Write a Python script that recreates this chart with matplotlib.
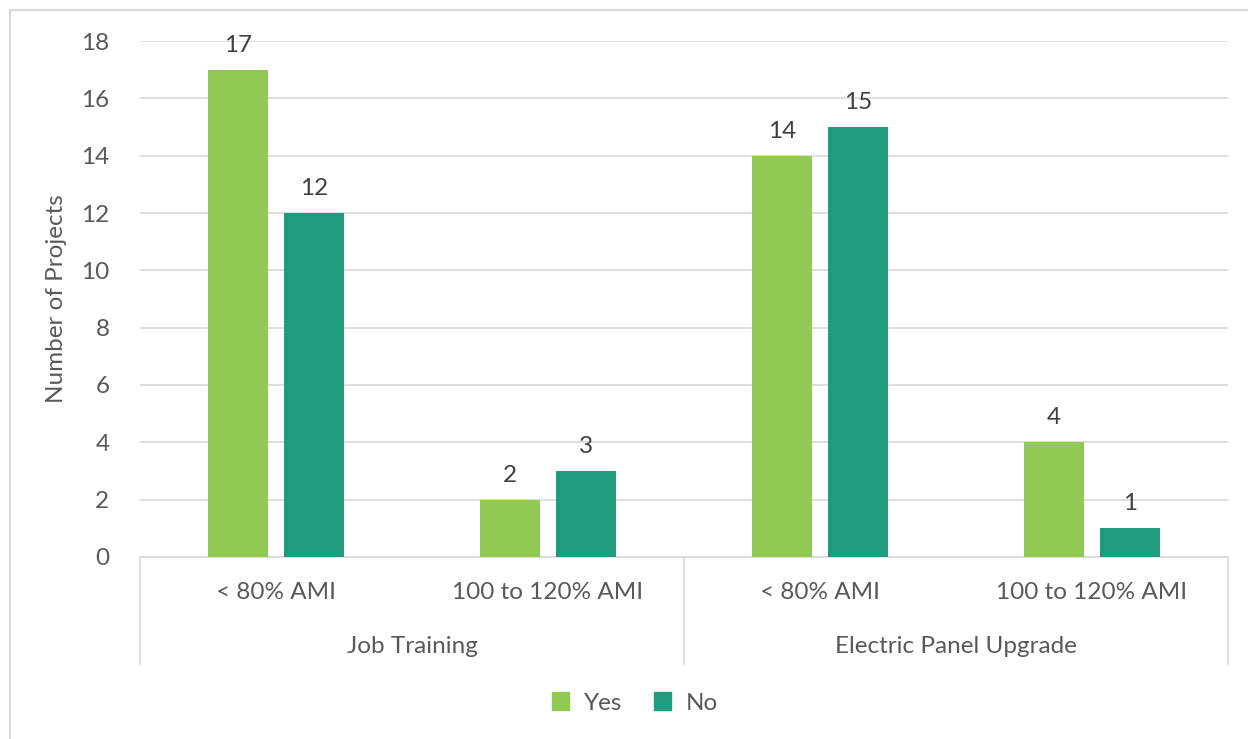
import matplotlib.pyplot as plt
from matplotlib.patches import Rectangle, Patch
from matplotlib.transforms import blended_transform_factory

plt.rcParams['font.family'] = ['Lato', 'DejaVu Sans']

groups = ['Job Training', 'Electric Panel Upgrade']
income_bands = ['< 80% AMI', '100 to 120% AMI', '< 80% AMI', '100 to 120% AMI']
yes_counts = [17, 2, 14, 4]
no_counts = [12, 3, 15, 1]

yes_color = '#92c955'
no_color = '#1f9b7f'
text_color = '#595959'
line_color = '#d9d9d9'
fs = 17.5

fig = plt.figure(figsize=(12.48, 7.39), dpi=100)
ax = fig.add_axes([0.1122, 0.2463, 0.8718, 0.6982])

# outer chart frame
fig.patches.append(Rectangle((0.008, -0.1), 1.2, 1.0865, transform=fig.transFigure,
                             fill=False, edgecolor=line_color, linewidth=1.5))

x = range(len(income_bands))
width = 0.22
offset = 0.14
yes_bars = ax.bar([i - offset for i in x], yes_counts, width, color=yes_color, zorder=3)
no_bars = ax.bar([i + offset for i in x], no_counts, width, color=no_color, zorder=3)

for bars in (yes_bars, no_bars):
    for b in bars:
        ax.annotate(f'{int(b.get_height())}', (b.get_x() + b.get_width() / 2, b.get_height()),
                    xytext=(0, 10), textcoords='offset points', ha='center', va='bottom',
                    fontsize=fs, color='#404040')

ax.set_xlim(-0.5, len(income_bands) - 0.5)
ax.set_ylim(0, 18)
ax.set_yticks(range(0, 19, 2))
ax.tick_params(axis='y', length=0, labelsize=fs, labelcolor=text_color, pad=22)
ax.set_xticks([])
ax.yaxis.grid(True, color=line_color, linewidth=1.2, zorder=0)
for s in ['top', 'right', 'left']:
    ax.spines[s].set_visible(False)
ax.spines['bottom'].set_color(line_color)
ax.spines['bottom'].set_linewidth(1.2)
ax.set_ylabel('Number of Projects', fontsize=fs, color=text_color, labelpad=10)

# two-level category axis
trans = blended_transform_factory(ax.transData, ax.transAxes)
for i, band in enumerate(income_bands):
    ax.text(i, -0.068, band, transform=trans, ha='center', va='center',
            fontsize=fs, color=text_color)
for j, g in enumerate(groups):
    ax.text(2 * j + 0.5, -0.174, g, transform=trans, ha='center', va='center',
            fontsize=fs, color=text_color)
for xs in (-0.5, 1.5, 3.5):
    ax.plot([xs, xs], [0, -0.207], transform=trans, color=line_color,
            linewidth=1.2, clip_on=False)

handles = [Patch(color=yes_color, label='Yes'), Patch(color=no_color, label='No')]
fig.legend(handles=handles, loc='center', bbox_to_anchor=(635 / 1248, 1 - 703 / 739),
           ncol=2, frameon=False, fontsize=fs, handlelength=0.7, handleheight=0.7,
           handletextpad=0.6, columnspacing=1.3, labelcolor=text_color)

fig.savefig('out.png', dpi=100)
